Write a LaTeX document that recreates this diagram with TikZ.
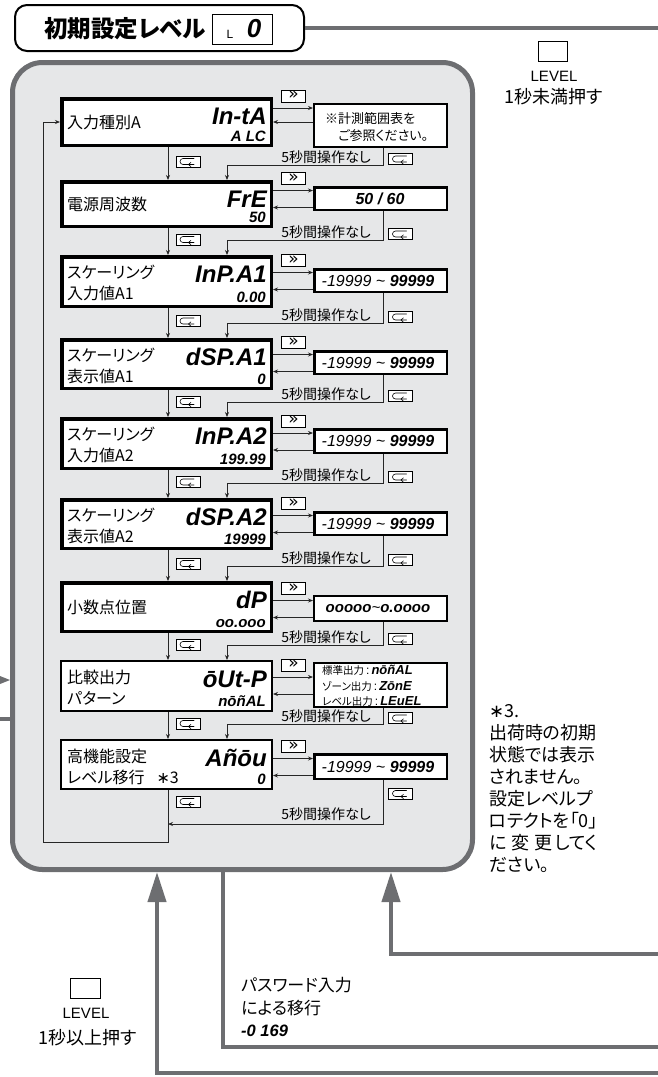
\documentclass[tikz,border=0pt]{standalone}
\usepackage{fontspec}
\setmainfont{Liberation Sans}
\newfontfamily\jp{Noto Sans CJK JP}[RawFeature=+palt]
\newfontfamily\lcd{Liberation Sans}
\newfontfamily\dv{DejaVu Sans}
\usetikzlibrary{arrows.meta}
\definecolor{lgray}{HTML}{6D6E71}
\definecolor{bgfill}{HTML}{E6E7E8}
\tikzset{
  jpt/.style={font=\jp\fontsize{16}{19}\selectfont, inner sep=0pt, anchor=west},
  lcdbig/.style={font=\lcd\bfseries\itshape\fontsize{24}{24}\selectfont, inner sep=0pt, anchor=base east},
  lcdsm/.style={font=\lcd\bfseries\itshape\fontsize{15}{15}\selectfont, inner sep=0pt, anchor=base east},
  lcdval/.style={font=\lcd\bfseries\itshape\fontsize{16}{16}\selectfont, inner sep=0pt},
  mainbox/.style={draw=black, line width=3.5pt, fill=white, minimum width=209.5pt, inner sep=0pt},
  mainthin/.style={draw=black, line width=2pt, fill=white, minimum width=211pt, inner sep=0pt},
  valbox/.style={draw=black, line width=2.5pt, fill=white, minimum width=132.5pt, inner sep=0pt},
  btn/.style={draw=black, line width=0.8pt, fill=white, minimum width=24pt, minimum height=11pt, inner sep=0pt},
  fwdbtn/.style={btn, font=\dv\fontsize{18}{18}\selectfont},
  retkey/.style={btn, path picture={
     \draw[line width=0.6pt, line cap=round, line join=round]
       ([shift={(6pt,3pt)}]path picture bounding box.center) -- ++(-11pt,0pt)
       arc[start angle=90, end angle=270, radius=3pt] -- ++(11pt,0pt);
     \draw[line width=0.6pt, line cap=round, line join=round]
       ([shift={(3pt,-0.8pt)}]path picture bounding box.center) -- ++(-2.5pt,-2.2pt) -- ++(2.5pt,-2.2pt);}},
  conn/.style={draw=black!85, line width=0.8pt},
  arr/.style={conn, -{Stealth[length=5pt, width=4pt]}},
  big/.style={draw=lgray, line width=4pt},
  bigarr/.style={big, -{Triangle[length=30pt, width=18pt]}},
  tlab/.style={font=\jp\fontsize{14}{14}\selectfont, inner sep=0pt, anchor=base east},
  levkey/.style={draw=black, line width=0.8pt, fill=white, minimum width=29pt, minimum height=20pt, inner sep=0pt},
  levtxt/.style={font=\fontsize{15}{15}\selectfont, inner sep=0pt},
  jpbig/.style={font=\jp\fontsize{18}{22}\selectfont, inner sep=0pt},
}
\begin{document}
\begin{tikzpicture}[x=1pt,y=-1pt]
\useasboundingbox (0,0) rectangle (658,1077);

% ---- panel ----
\node[draw=lgray, line width=5pt, fill=bgfill, rounded corners=30pt, minimum width=460pt, minimum height=807pt, inner sep=0pt] (panel) at (242.5,466) {};

% ---- title ----
\node[draw=black, line width=2pt, fill=white, rounded corners=12pt, minimum width=289pt, minimum height=46pt, inner sep=0pt] (title) at (159.5,28) {};
\node[font=\jp\bfseries\fontsize{23.5}{23.5}\selectfont, inner sep=0pt] (ttxt) at (125,29) {初期設定レベル};
\node[draw=black, line width=1pt, minimum width=60pt, minimum height=30pt, inner sep=0pt] (lbox) at (242.5,29.5) {};
\node[font=\fontsize{12}{12}\selectfont, inner sep=0pt, anchor=base] (lL) at (230,38) {L};
\node[lcdbig, anchor=base, font=\lcd\bfseries\itshape\fontsize{26}{26}\selectfont] (l0) at (254,37) {0};
\coordinate (eT) at (662,28);
\draw[big] (title.east) -- (eT);

% top right LEVEL key
\node[levkey] (lev1) at (553,51.5) {};
\node[levtxt] (levt1) at (554,76) {LEVEL};
\node[jpbig] (levs1) at (554,97) {1秒未満押す};

% ---- main boxes ----
\node[mainbox, minimum height=46.5pt] (m1) at (166.5,122) {};
\node[mainbox, minimum height=44.5pt] (m2) at (166.5,204) {};
\node[mainbox, minimum height=49.5pt] (m3) at (166.5,281.5) {};
\node[mainbox, minimum height=48.5pt] (m4) at (166.5,364) {};
\node[mainbox, minimum height=49.5pt] (m5) at (166.5,443.5) {};
\node[mainbox, minimum height=48.5pt] (m6) at (166.5,524) {};
\node[mainbox, minimum height=48.5pt] (m7) at (166.5,607) {};
\node[mainthin, minimum height=50pt] (m8) at (166.5,686) {};
\node[mainthin, minimum height=49pt] (m9) at (166.5,764.5) {};

% main box texts
\node[jpt] (a1) at (67,122) {入力種別A};
\node[lcdbig] (b1) at (267,124) {In-tA};
\node[lcdsm] (c1) at (266,141) {A LC};

\node[jpt] (a2) at (67,204) {電源周波数};
\node[lcdbig] (b2) at (267,207) {FrE};
\node[lcdsm] (c2) at (266,222) {50};

\node[jpt] (a3) at (67,272) {スケーリング};
\node[jpt] (a3b) at (67,293) {入力値A1};
\node[lcdbig] (b3) at (267,282) {InP.A1};
\node[lcdsm] (c3) at (266,302) {0.00};

\node[jpt] (a4) at (67,355) {スケーリング};
\node[jpt] (a4b) at (67,376) {表示値A1};
\node[lcdbig] (b4) at (267,365) {dSP.A1};
\node[lcdsm] (c4) at (266,384) {0};

\node[jpt] (a5) at (67,434) {スケーリング};
\node[jpt] (a5b) at (67,455) {入力値A2};
\node[lcdbig] (b5) at (267,444) {InP.A2};
\node[lcdsm] (c5) at (266,464) {199.99};

\node[jpt] (a6) at (67,515) {スケーリング};
\node[jpt] (a6b) at (67,536) {表示値A2};
\node[lcdbig] (b6) at (267,525) {dSP.A2};
\node[lcdsm] (c6) at (266,544) {19999};

\node[jpt] (a7) at (67,607) {小数点位置};
\node[lcdbig] (b7) at (267,608) {dP};
\node[lcdsm] (c7) at (266,627) {oo.ooo};

\node[jpt] (a8) at (67,677) {比較出力};
\node[jpt] (a8b) at (67,698) {パターン};
\node[lcdbig] (b8) at (267,687) {ōUt-P};
\node[lcdsm] (c8) at (266,706) {nōñAL};

\node[jpt] (a9) at (67,756) {高機能設定};
\node[jpt] (a9b) at (67,777) {レベル移行\hspace{12pt}{\dv ∗}3};
\node[lcdbig] (b9) at (267,766) {Añōu};
\node[lcdsm] (c9) at (266,784) {0};

% ---- value boxes ----
\node[valbox, line width=2pt, minimum width=133pt, minimum height=43pt] (v1) at (380.5,125.5) {};
\node[valbox, minimum height=22.5pt] (v2) at (380.5,198.5) {};
\node[valbox, minimum height=22.5pt] (v3) at (380.5,280.5) {};
\node[valbox, minimum height=22.5pt] (v4) at (380.5,362.5) {};
\node[valbox, minimum height=23.5pt] (v5) at (380.5,441) {};
\node[valbox, minimum height=22.5pt] (v6) at (380.5,523.5) {};
\node[valbox, line width=1.8pt, minimum width=133.2pt, minimum height=25.2pt] (v7) at (380.5,608.5) {};
\node[valbox, line width=2pt, minimum width=133pt, minimum height=44pt] (v8) at (380.5,685) {};
\node[valbox, minimum height=24.5pt] (v9) at (380.5,766.5) {};

\node[font=\jp\fontsize{13}{13}\selectfont, inner sep=0pt, anchor=west] (w1a) at (325,119) {※計測範囲表を};
\node[font=\jp\fontsize{13}{13}\selectfont, inner sep=0pt, anchor=west] (w1b) at (338,136) {ご参照ください。};
\node[lcdval] (w2) at (380,198.5) {50 / 60};
\node[lcdval] (w3) at (378,280.5) {{\mdseries -19999 \textasciitilde} 99999};
\node[lcdval] (w4) at (378,362.5) {{\mdseries -19999 \textasciitilde} 99999};
\node[lcdval] (w5) at (378,441) {{\mdseries -19999 \textasciitilde} 99999};
\node[lcdval] (w6) at (378,523.5) {{\mdseries -19999 \textasciitilde} 99999};
\node[lcdval, font=\lcd\bfseries\itshape\fontsize{15}{15}\selectfont] (w7) at (378,609) {ooooo{\mdseries\textasciitilde}o.oooo};
\node[inner sep=0pt, anchor=west] (w8a) at (322,670) {{\jp\fontsize{10.5}{11}\selectfont 標準出力}{\fontsize{12}{12}\selectfont\,:\,}{\lcd\bfseries\itshape\fontsize{13}{13}\selectfont nōñAL}};
\node[inner sep=0pt, anchor=west] (w8b) at (322,686) {{\jp\fontsize{10.5}{11}\selectfont ゾーン出力}{\fontsize{12}{12}\selectfont\,:\,}{\lcd\bfseries\itshape\fontsize{13}{13}\selectfont ZōnE}};
\node[inner sep=0pt, anchor=west] (w8c) at (322,701) {{\jp\fontsize{10.5}{11}\selectfont レベル出力}{\fontsize{12}{12}\selectfont\,:\,}{\lcd\bfseries\itshape\fontsize{13}{13}\selectfont LEuEL}};
\node[lcdval] (w9) at (378,766.5) {{\mdseries -19999 \textasciitilde} 99999};

% ---- forward / back arrows and >> buttons ----
\draw[arr] ([yshift=17.5pt]v1.west -| m1.east) -- ([yshift=17.5pt]v1.west);
\draw[arr] ([yshift=3.5pt]v1.west) -- ([yshift=3.5pt]v1.west -| m1.east);
\foreach \i in {2,...,9}{
  \draw[arr] ([yshift=8pt]v\i.west -| m\i.east) -- ([yshift=8pt]v\i.west);
  \draw[arr] ([yshift=-9pt]v\i.west) -- ([yshift=-9pt]v\i.west -| m\i.east);
}
\foreach \i/\y in {1/96, 2/178.5, 3/260.5, 4/342.5, 5/421, 6/503.5, 7/588.5, 8/665, 9/746.5}{
  \node[btn, minimum height=12pt] (fb\i) at (293.5,\y) {};
  \node[font=\dv\fontsize{17}{17}\selectfont, inner sep=0pt] (fg\i) at (293.5,\y-0.5) {»};
}

% ---- down arrows ----
\coordinate (dx) at (168,0);
\coordinate (tx) at (383,0);
\coordinate (hx) at (227,0);
\foreach \i/\j in {1/2,2/3,3/4,4/5,5/6,6/7,7/8,8/9}{
  \draw[arr] (m\i.south -| dx) -- (m\j.north -| dx);
}
\foreach \i/\y in {1/161.5, 2/239.5, 3/321, 4/401.5, 5/482, 6/563.5, 7/644.5, 8/723.5, 9/801.5}{
  \node[retkey] (kd\i) at (188,\y) {};
}

% ---- timeout paths ----
\foreach \i/\j/\yh in {1/2/165, 2/3/240, 3/4/323, 4/5/402, 5/6/483, 6/7/566, 7/8/645, 8/9/724}{
  \draw[arr] (v\i.south -| tx) |- (227,\yh) -- (m\j.north -| hx);
  \node[tlab] (tl\i) at (371,\yh-2.5) {5秒間操作なし};
  \node[retkey] (kt\i) at (400.5,\yh-6) {};
}
\node[retkey] (kt9) at (400.5,793.5) {};
\node[tlab] (tl9) at (371,819) {5秒間操作なし};
\coordinate (j9) at (168,824);
\draw[arr] (v9.south -| tx) |- (j9);
\coordinate (lp) at (43,842);
\draw[arr] (m9.south -| dx) |- (lp) |- (m1.west);

% ---- left fragments ----
\fill[lgray] (0,676) -- (10,680) -- (0,684) -- cycle;
\coordinate (fl1) at (-2,719);
\draw[big] (fl1) -- (panel.west |- fl1);

% ---- note ----
\node[jpbig, anchor=north west, align=left] (note) at (489,704) {{\dv ∗}3.\\出荷時の初期\\状態では表示\\されません。\\設定レベルプ\\ロテクトを「0」\\に\hspace{5pt}変\hspace{5pt}更\hspace{2pt}してく\\ださい。};

% ---- bottom connectors ----
\coordinate (aL) at (157,0);
\coordinate (aM) at (223,0);
\coordinate (aR) at (391,0);
\coordinate (eL) at (662,1073);
\coordinate (eM) at (662,1047);
\coordinate (eR) at (662,954);
\draw[bigarr] (eL) -| (aL |- panel.south);
\draw[big] (panel.south -| aM) |- (eM);
\draw[bigarr] (eR) -| (aR |- panel.south);

% bottom-left LEVEL key
\node[levkey, minimum width=30pt] (lev2) at (85.5,988.5) {};
\node[levtxt] (levt2) at (86,1013) {LEVEL};
\node[jpbig] (levs2) at (88,1038) {1秒以上押す};

% password text
\node[font=\jp\fontsize{17}{17}\selectfont, inner sep=0pt, anchor=west] (pw1) at (241,985) {パスワード入力};
\node[font=\jp\fontsize{17}{17}\selectfont, inner sep=0pt, anchor=west] (pw2) at (241,1008) {による移行};
\node[font=\lcd\bfseries\itshape\fontsize{16.5}{16.5}\selectfont, inner sep=0pt, anchor=west] (pw3) at (241,1031) {-0 169};
\end{tikzpicture}
\end{document}
